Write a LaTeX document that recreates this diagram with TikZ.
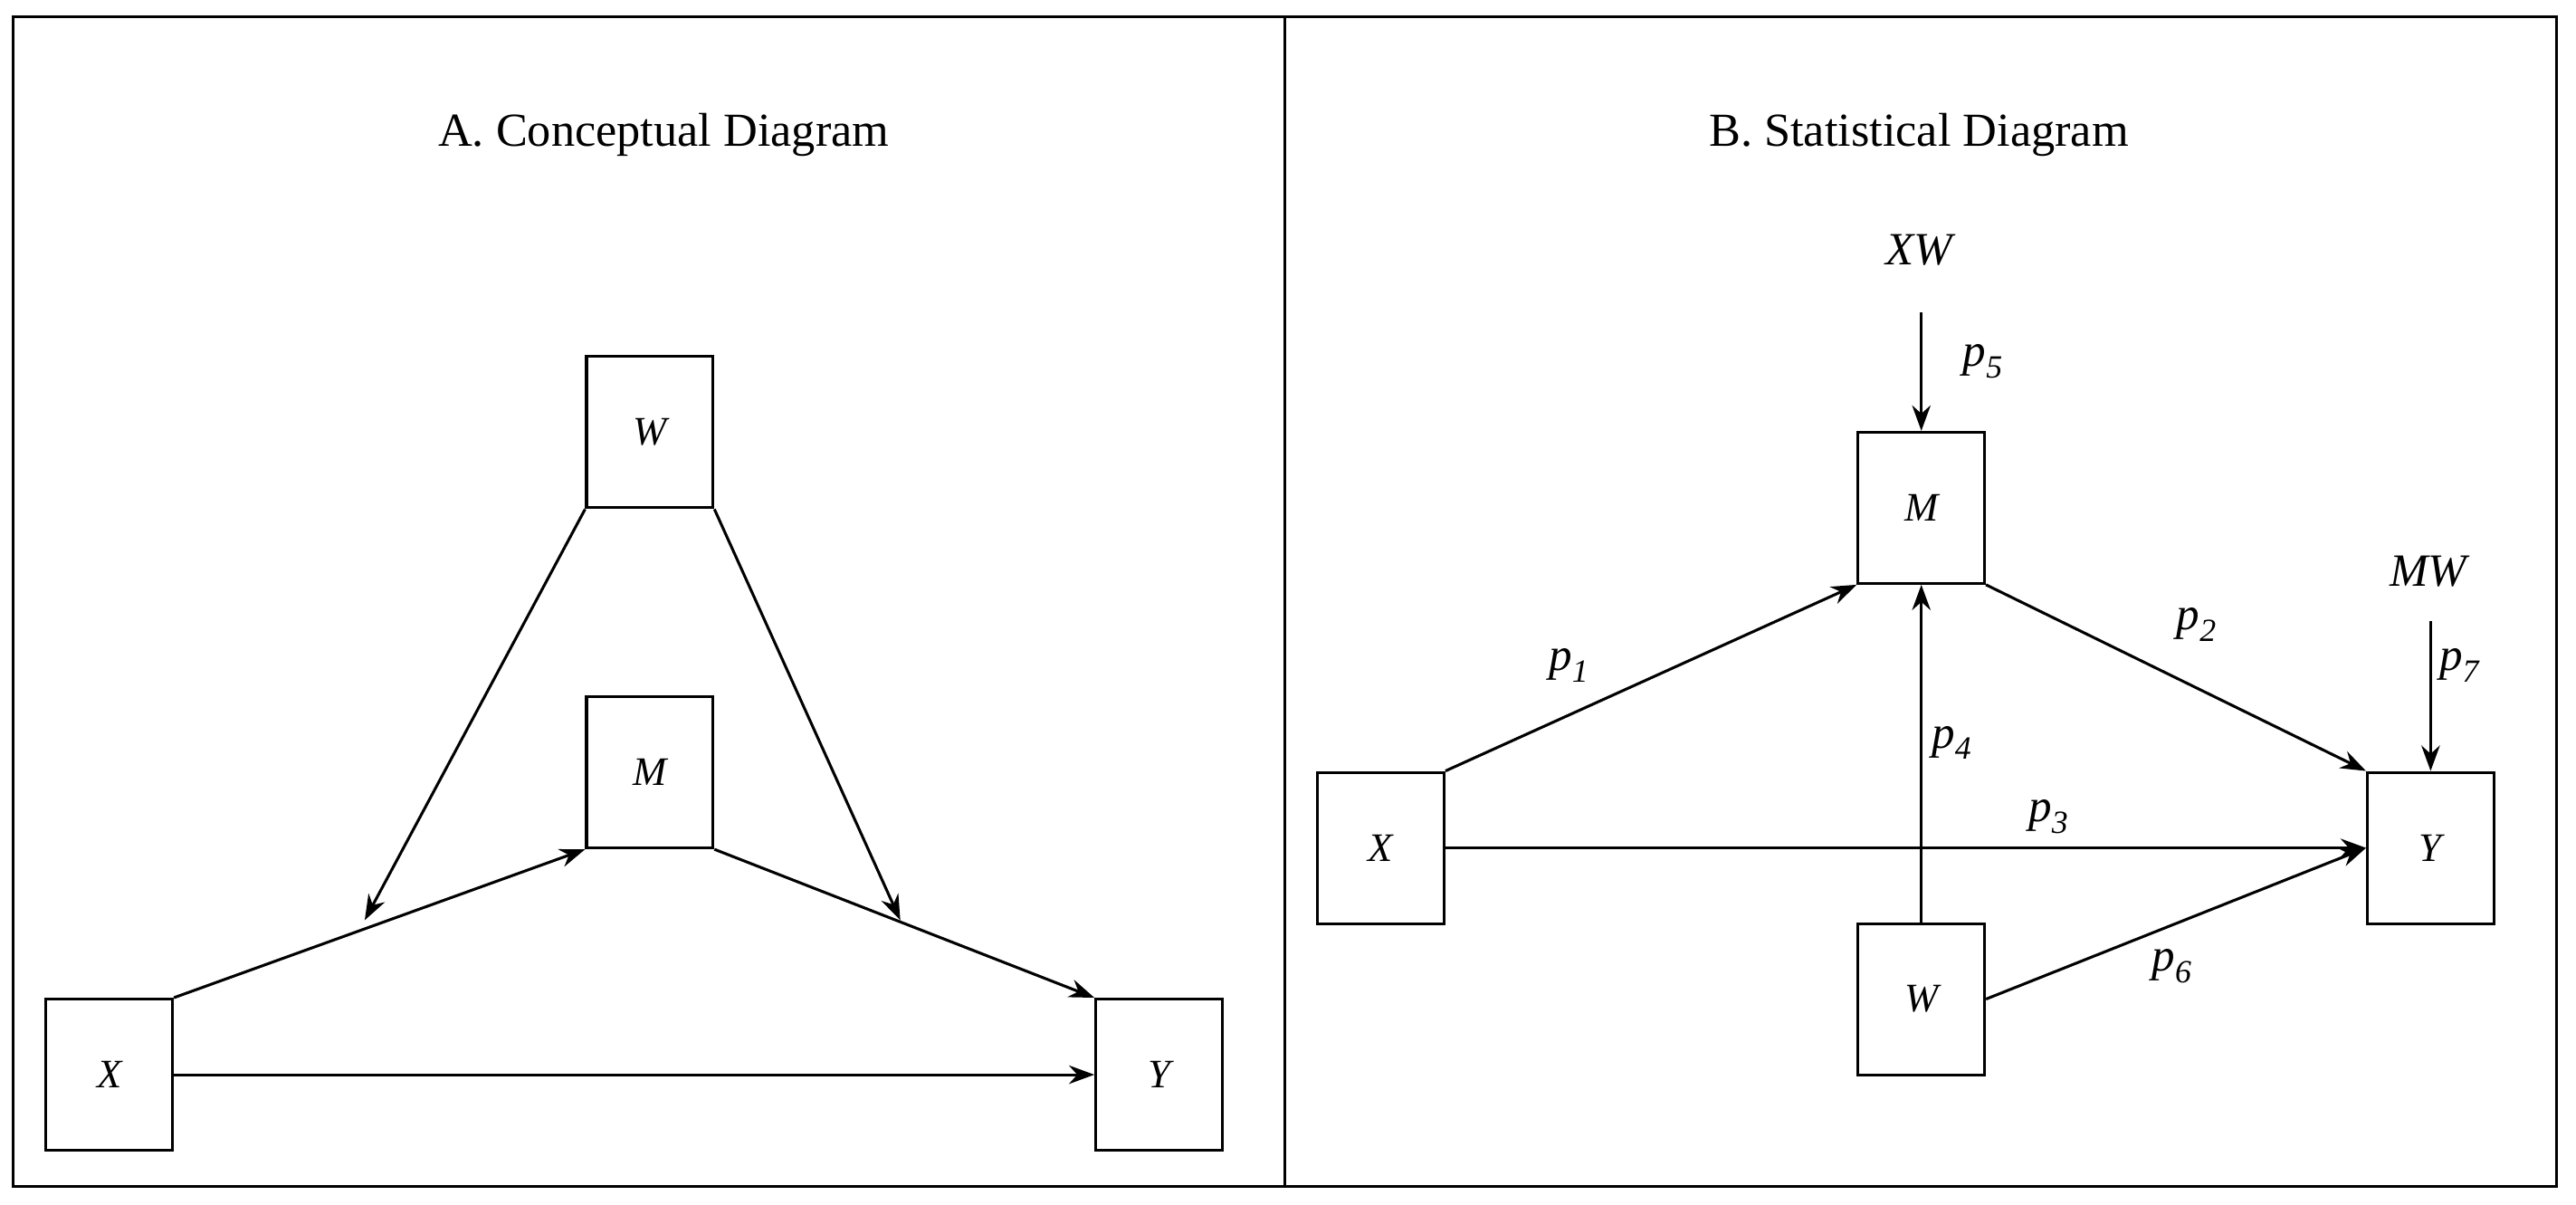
\documentclass[tikz,border=0pt]{standalone}
\usepackage{fontspec}
\setmainfont{Liberation Serif}
\usetikzlibrary{arrows.meta}
\begin{document}
\begin{tikzpicture}[x=0.5mm,y=-0.5mm,
 bx/.style={draw,line width=2.4pt,minimum width=38.5mm,minimum height=46mm,inner sep=0pt,font=\fontsize{35}{40}\selectfont\itshape},
 ar/.style={line width=2.4pt,-{Stealth[length=22pt,width=16pt]}},
 lb/.style={font=\fontsize{40}{46}\selectfont\itshape},
 ttl/.style={font=\fontsize{41}{48}\selectfont}]
\useasboundingbox (0,0) rectangle (1568,733);
\draw[line width=2.4pt] (8,10) rectangle (1556,722);
\draw[line width=2.4pt] (782,10) -- (782,722);
\node[ttl] (ta) at (404,82) {A. Conceptual Diagram};
\node[ttl] (tb) at (1168,82) {B. Statistical Diagram};
% panel A
\node[bx] (aw) at (395.5,263) {W};
\node[bx] (am) at (395.5,470) {M};
\node[bx] (ax) at (66.5,654) {X};
\node[bx] (ay) at (705.5,654) {Y};
\draw[ar] (ax.north east) -- (am.south west);
\draw[ar] (am.south east) -- (ay.north west);
\draw[ar] (ax.east) -- (ay.west);
\coordinate (c1) at (222,560);
\coordinate (c2) at (548,560);
\draw[ar] (aw.south west) -- (c1);
\draw[ar] (aw.south east) -- (c2);
% panel B
\node[bx] (bm) at (1169.5,309) {M};
\node[bx] (bx) at (840.5,516) {X};
\node[bx] (by) at (1479.5,516) {Y};
\node[bx] (bw) at (1169.5,608) {W};
\node[lb] (xw) at (1168,152) {XW};
\node[lb] (mw) at (1478,348) {MW};
\coordinate (xwe) at (1169.5,190);
\coordinate (mwe) at (1479.5,378);
\draw[ar] (xwe) -- (bm.north);
\draw[ar] (mwe) -- (by.north);
\draw[ar] (bx.north east) -- (bm.south west);
\draw[ar] (bm.south east) -- (by.north west);
\draw[ar] (bx.east) -- (by.west);
\draw[ar] (bw.north) -- (bm.south);
\draw[ar] (bw.east |- 0,608) -- (by.west);
\node[lb] (p1) at (955,405) {p\textsubscript{1}};
\node[lb] (p2) at (1337,380) {p\textsubscript{2}};
\node[lb] (p3) at (1247,497) {p\textsubscript{3}};
\node[lb] (p4) at (1188,452) {p\textsubscript{4}};
\node[lb] (p5) at (1207,220) {p\textsubscript{5}};
\node[lb] (p6) at (1322,588) {p\textsubscript{6}};
\node[lb] (p7) at (1497,405) {p\textsubscript{7}};
\end{tikzpicture}
\end{document}
